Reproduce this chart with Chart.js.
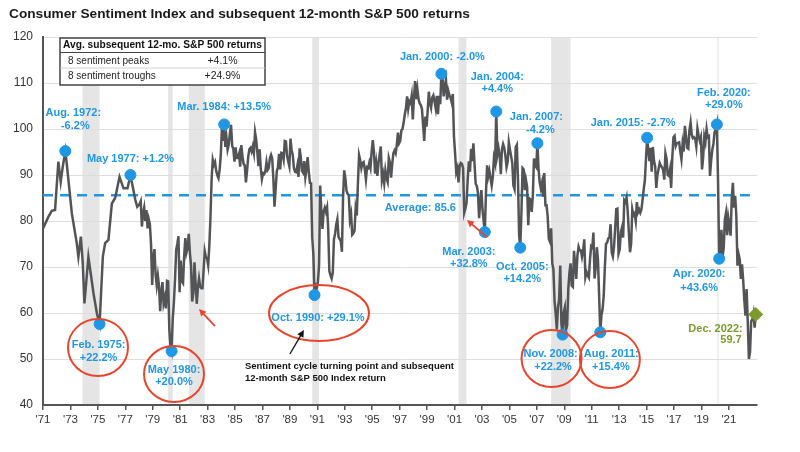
<!DOCTYPE html>
<html><head><meta charset="utf-8">
<script src="https://cdn.jsdelivr.net/npm/chart.js@4"></script>
<style>html,body{margin:0;padding:0;background:#fff}#wrap{width:800px;height:452px;position:relative}</style>
</head><body><div id="wrap"><canvas id="c"></canvas></div>
<script>
// ---------------- DATA ----------------
const chartTitle = "Consumer Sentiment Index and subsequent 12-month S&P 500 returns";
// early (pre-1978) readings, decimal years
const earlyDates = [1971.00,1971.39,1971.64,1971.88,1972.12,1972.29,1972.44,1972.625,1972.73,1973.10,1973.46,1973.58,1973.76,1973.90,1974.02,1974.31,1974.68,1974.93,1975.125,1975.36,1975.53,1975.77,1976.02,1976.26,1976.58,1976.87,1977.16,1977.375,1977.73,1977.87];
const earlyValues = [78.4,80.9,82.2,82.4,92.9,88.5,91.8,95.2,92.5,81.7,75.2,72.2,76.6,70.8,62.1,72.2,64.3,59.9,57.6,72.2,75.2,75.9,83.8,85.0,89.6,87.1,87.1,90.0,84.6,83.1];
// monthly readings from Jan 1978
const firstMonthlyYear = 1978;
const sentiment1978to1989 = [
83.7,84.3,78.8,81.6,82.9,80.0,82.4,78.4,80.4,79.3,75.0,66.1,
72.1,73.9,68.4,66.0,68.1,65.8,60.4,64.5,66.7,62.1,63.3,61.0,
67.0,66.9,56.5,52.7,51.7,58.7,62.3,67.3,73.7,75.0,76.7,64.5,
71.4,66.9,66.5,72.4,76.3,73.1,74.1,77.2,73.1,70.3,62.5,64.3,
71.0,66.5,62.0,65.5,67.5,65.7,65.4,65.4,69.3,73.4,72.1,71.9,
70.4,74.6,80.8,89.1,93.3,92.2,92.8,90.9,89.9,89.3,91.1,94.2,
100.1,97.4,101.0,96.1,98.1,95.5,96.6,99.1,100.9,96.3,95.7,92.9,
96.0,93.7,93.7,94.6,91.8,96.5,94.0,92.4,92.1,88.4,90.9,93.9,
95.6,95.9,95.1,96.2,94.8,99.3,97.7,94.9,91.9,95.6,91.4,89.1,
90.4,90.2,90.8,92.8,91.1,91.5,93.7,94.4,93.6,89.3,83.1,86.8,
90.8,91.6,94.6,91.2,94.8,94.7,93.4,97.4,97.3,94.1,93.0,91.9,
97.9,95.4,94.3,91.5,90.7,90.6,92.0,89.6,95.8,93.9,90.9,90.5];
const sentiment1990to1999 = [
93.0,89.5,91.3,93.9,90.6,88.3,88.2,76.4,72.8,63.9,66.0,65.5,
66.8,70.4,87.7,81.8,78.3,82.1,82.9,82.0,83.0,78.3,69.1,68.2,
67.5,68.8,76.0,77.2,79.2,80.4,76.6,76.1,75.6,73.3,85.3,91.0,
89.3,86.6,85.9,85.6,80.3,81.5,77.0,77.3,77.9,82.7,81.2,88.2,
94.3,93.2,91.5,92.6,92.8,91.2,89.0,91.7,91.5,92.7,91.6,95.1,
97.6,95.1,90.3,92.5,89.8,92.7,94.4,96.2,88.9,90.2,88.2,91.0,
89.3,88.5,93.7,92.7,89.4,92.4,94.7,95.3,94.7,96.5,99.2,96.9,
97.4,99.7,100.0,101.4,103.2,104.5,107.1,104.4,106.0,105.6,107.2,102.1,
106.6,110.4,106.5,108.7,106.5,105.6,105.2,104.4,100.9,97.4,102.7,100.5,
103.9,108.1,105.7,104.6,106.8,107.3,106.0,104.5,107.2,103.2,107.2,105.4];
const sentiment2000to2009 = [
112.0,111.3,107.1,109.2,110.7,106.4,108.3,107.3,106.8,105.8,107.6,98.4,
94.7,90.6,91.5,88.4,92.0,92.6,92.4,91.5,81.8,82.7,83.9,88.8,
93.0,90.7,95.7,93.0,96.9,92.4,88.1,87.6,86.1,80.6,84.2,86.7,
82.4,79.9,77.6,86.0,92.1,89.7,90.9,89.3,87.7,89.6,93.7,92.6,
103.8,94.4,95.8,94.2,90.2,95.6,96.7,95.9,94.2,91.7,92.8,97.1,
95.5,94.1,92.6,87.7,86.9,96.0,96.5,89.1,76.9,74.2,81.6,91.5,
91.2,86.7,88.9,87.4,79.1,84.9,84.7,82.0,85.4,93.6,92.1,91.7,
96.9,91.3,88.4,87.1,88.3,85.3,90.4,83.4,83.4,80.9,76.1,75.5,
78.4,70.8,69.5,62.6,59.8,56.4,61.2,63.0,70.3,57.6,55.3,60.1,
61.2,56.3,57.3,65.1,68.7,70.8,66.0,65.7,73.5,70.6,67.4,72.5];
const sentiment2010to2022 = [
74.4,73.6,73.6,72.2,73.6,76.0,67.8,68.9,68.2,67.7,71.6,74.5,
74.2,77.5,67.5,69.8,74.3,71.5,63.7,55.8,59.5,60.8,63.7,69.9,
75.0,75.3,76.2,76.4,79.3,73.2,72.3,74.3,78.3,82.6,82.7,72.9,
73.8,77.6,78.6,76.4,84.5,84.1,85.1,82.1,77.5,73.2,75.1,82.5,
81.2,81.6,80.0,84.1,81.9,82.5,81.8,82.5,84.6,86.9,88.8,93.6,
98.1,95.4,93.0,95.9,90.7,96.1,93.1,91.9,87.2,90.0,91.3,92.6,
92.0,91.7,91.0,89.0,94.7,93.5,90.0,89.8,91.2,87.2,93.8,98.2,
98.5,96.3,96.9,97.0,97.1,95.1,93.4,96.8,95.1,100.7,98.5,95.9,
95.7,99.7,101.4,98.8,98.0,98.2,97.9,96.2,100.1,98.6,97.5,98.3,
91.2,93.8,98.4,97.2,100.0,98.2,98.4,89.8,93.2,95.5,96.8,99.3,
99.8,101.0,89.1,71.8,72.3,78.1,72.5,74.1,80.4,81.8,76.9,80.7,
79.0,76.8,84.9,88.3,82.9,85.5,81.2,70.3,72.8,71.7,67.4,70.6,
67.2,62.8,59.4,65.2,58.4,50.0,51.5,58.2,58.6,59.9,56.8,59.7];

const averageValue = 85.6;
const averageLabel = "Average: 85.6";
// turning points (peaks & troughs)
const turningMonths = ["1972-08","1975-02","1977-05","1980-05","1984-03","1990-10","2000-01","2003-03","2004-01","2005-10","2007-01","2008-11","2011-08","2015-01","2020-02","2020-04"];
const turningValues = [95.2,57.6,90.0,51.7,101.0,63.9,112.0,77.6,103.8,74.2,96.9,55.3,55.8,98.1,101.0,71.8];
const turningLabels = [
  ["Aug. 1972:","-6.2%"],["Feb. 1975:","+22.2%"],["May 1977: +1.2%"],["May 1980:","+20.0%"],
  ["Mar. 1984: +13.5%"],["Oct. 1990: +29.1%"],["Jan. 2000: -2.0%"],["Mar. 2003:","+32.8%"],
  ["Jan. 2004:","+4.4%"],["Oct. 2005:","+14.2%"],["Jan. 2007:","-4.2%"],["Nov. 2008:","+22.2%"],
  ["Aug. 2011:","+15.4%"],["Jan. 2015: -2.7%"],["Feb. 2020:","+29.0%"],["Apr. 2020:","+43.6%"]];
const latestMonth = "2022-12";
const latestValue = 59.7;
const latestLabel = ["Dec. 2022:","59.7"];
// recessions
const recessionStarts = ["1973-11","1980-02","1981-08","1990-08","2001-04","2008-01","2020-02"];
const recessionEnds   = ["1975-02","1980-06","1982-10","1991-02","2001-11","2009-06","2020-04"];
// axis ticks
const xTickYears = [1971,1973,1975,1977,1979,1981,1983,1985,1987,1989,1991,1993,1995,1997,1999,2001,2003,2005,2007,2009,2011,2013,2015,2017,2019,2021];
const xTickLabels = ["'71","'73","'75","'77","'79","'81","'83","'85","'87","'89","'91","'93","'95","'97","'99","'01","'03","'05","'07","'09","'11","'13","'15","'17","'19","'21"];
// table
const tableHeader = "Avg. subsequent 12-mo. S&P 500 returns";
const tableRowNames = ["8 sentiment peaks","8 sentiment troughs"];
const tableRowReturns = ["+4.1%","+24.9%"];
const noteLines = ["Sentiment cycle turning point and subsequent","12-month S&P 500 Index return"];

// ---------------- LAYOUT (annotation placement) ----------------
const labelOffsets = [
  [[8,-38],[10,-25]],[[-1,21],[-1,34]],[[0,-16]],[[2.4,19],[2.4,31]],
  [[0,-17]],[[3.5,23]],[[1,-17]],[[-16,20],[-16,32]],
  [[1,-35],[1,-23]],[[2,19],[2,31]],[[-1,-26],[3,-13]],[[-12,19.5],[-9.5,32.5]],
  [[11,22],[10.6,35]],[[-14,-15]],[[7,-31],[7,-19]],[[-20,15],[-20,29]]];
const ellipseSpecs = [ // marker index, dx, dy, rx, ry
  [1,-1.6,23.5,30,28.5],[3,2.4,22.8,30,28],[5,4.5,18,50,28],[11,-11,24,30,28.5],[12,9.6,27.2,30,28.5]];
const BLUE = '#1f97e4', RED = '#e8452c', GREEN = '#7b9b2c', LINE = '#535456', AXIS = '#555';
const FONT = "'Liberation Sans', Arial, sans-serif";

// ---------------- BUILD ----------------
const monthToX = s => { const [y,m] = s.split('-').map(Number); return y + (m - 0.5) / 12; };
const sentimentPoints = earlyDates.map((d,i)=>({x:d, y:earlyValues[i]}));
[sentiment1978to1989, sentiment1990to1999, sentiment2000to2009, sentiment2010to2022].flat()
  .forEach((v,i)=>sentimentPoints.push({x:firstMonthlyYear + (i + 0.5)/12, y:v}));
const turningPoints = turningMonths.map((m,i)=>({x:monthToX(m), y:turningValues[i]}));
const X_MIN = 1971, X_MAX = 2023.05;

function txt(ctx, s, x, y, font, color, align, maxW){
  ctx.save(); ctx.font = font; ctx.fillStyle = color; ctx.textAlign = align || 'center'; ctx.textBaseline = 'middle';
  if (maxW) ctx.fillText(s, x, y, maxW); else ctx.fillText(s, x, y); ctx.restore();
}
function arrow(ctx, x1, y1, x2, y2, color, w){
  ctx.save(); ctx.strokeStyle = color; ctx.fillStyle = color; ctx.lineWidth = w;
  const a = Math.atan2(y2-y1, x2-x1), h = 7;
  ctx.beginPath(); ctx.moveTo(x1,y1); ctx.lineTo(x2 - Math.cos(a)*h*0.8, y2 - Math.sin(a)*h*0.8); ctx.stroke();
  ctx.beginPath(); ctx.moveTo(x2,y2);
  ctx.lineTo(x2 - h*Math.cos(a) + 3.5*Math.sin(a), y2 - h*Math.sin(a) - 3.5*Math.cos(a));
  ctx.lineTo(x2 - h*Math.cos(a) - 3.5*Math.sin(a), y2 - h*Math.sin(a) + 3.5*Math.cos(a));
  ctx.closePath(); ctx.fill(); ctx.restore();
}

const decor = {
  id: 'decor',
  beforeDraw(chart){
    const {ctx, chartArea:ca, scales:{x}} = chart;
    ctx.save();
    recessionStarts.forEach((s,i)=>{
      const a = x.getPixelForValue(monthToX(s)), b = x.getPixelForValue(monthToX(recessionEnds[i]));
      ctx.fillStyle = i === recessionStarts.length-1 ? '#f0f0f0' : '#e5e5e5';
      ctx.fillRect(a, ca.top, Math.max(b-a, 1.5), ca.bottom - ca.top);
    });
    ctx.restore();
    txt(ctx, chartTitle, 9, 14.5, `bold 13.7px ${FONT}`, '#1a1a1a', 'left');
  },
  afterDraw(chart){
    const {ctx, chartArea:ca, scales:{x, y}} = chart;
    const L = `bold 11px ${FONT}`;
    // turning point labels
    turningPoints.forEach((p,i)=>{
      const px = x.getPixelForValue(p.x), py = y.getPixelForValue(p.y);
      turningLabels[i].forEach((line,j)=>{
        const [dx,dy] = labelOffsets[i][j];
        txt(ctx, line, px+dx, py+dy, L, BLUE, 'center');
      });
    });
    // ellipses
    ctx.save(); ctx.strokeStyle = RED; ctx.lineWidth = 2;
    ellipseSpecs.forEach(([i,dx,dy,rx,ry])=>{
      const px = x.getPixelForValue(turningPoints[i].x), py = y.getPixelForValue(turningPoints[i].y);
      ctx.beginPath(); ctx.ellipse(px+dx, py+dy, rx, ry, 0, 0, Math.PI*2); ctx.stroke();
    });
    ctx.restore();
    // latest label
    const lx = x.getPixelForValue(monthToX(latestMonth)), ly = y.getPixelForValue(latestValue);
    txt(ctx, latestLabel[0], lx-13, ly+15, L, GREEN, 'right');
    txt(ctx, latestLabel[1], lx-14, ly+26, L, GREEN, 'right');
    // average label
    txt(ctx, averageLabel, x.getPixelForValue(1998.51), y.getPixelForValue(averageValue)+13, L, BLUE, 'center');
    // arrows
    arrow(ctx, x.getPixelForValue(1983.54), y.getPixelForValue(57.17), x.getPixelForValue(1982.37), y.getPixelForValue(60.87), RED, 1.8);
    arrow(ctx, x.getPixelForValue(2003.36), y.getPixelForValue(76.52), x.getPixelForValue(2001.90), y.getPixelForValue(80.22), RED, 1.8);
    arrow(ctx, x.getPixelForValue(1989.0), y.getPixelForValue(51.09), x.getPixelForValue(1990.02), y.getPixelForValue(56.30), '#111', 1.3);
    // note
    const nx = x.getPixelForValue(1985.72);
    txt(ctx, noteLines[0], nx, y.getPixelForValue(48.37), `bold 9.5px ${FONT}`, '#111', 'left', 212);
    txt(ctx, noteLines[1], nx, y.getPixelForValue(45.87), `bold 9.5px ${FONT}`, '#111', 'left', 143);
    // table
    const tl = ca.left + 17, tt = ca.top + 1, tr = ca.left + 222, tb = ca.top + 48;
    ctx.save();
    ctx.fillStyle = '#fff'; ctx.fillRect(tl, tt, tr-tl, tb-tt);
    ctx.strokeStyle = '#444'; ctx.lineWidth = 1.5; ctx.strokeRect(tl, tt, tr-tl, tb-tt);
    ctx.beginPath(); ctx.moveTo(tl, tt+14.5); ctx.lineTo(tr, tt+14.5); ctx.lineWidth = 1.2; ctx.stroke();
    ctx.beginPath(); ctx.moveTo(tl, tt+30); ctx.lineTo(tr, tt+30); ctx.strokeStyle = '#c8c8c8'; ctx.lineWidth = 0.8; ctx.stroke();
    ctx.restore();
    txt(ctx, tableHeader, tl+3, tt+7.5, `bold 10.5px ${FONT}`, '#111', 'left', 199);
    tableRowNames.forEach((n,i)=>{
      const ry = tt + 23 + i*15;
      txt(ctx, n, tl+8, ry, `10px ${FONT}`, '#222', 'left');
      txt(ctx, tableRowReturns[i], tl+162.5, ry, `10.5px ${FONT}`, '#222', 'center');
    });
  }
};

new Chart(document.getElementById('c'), {
  type: 'line',
  data: {
    datasets: [
      { label:'Turning points', data: turningPoints, showLine:false, pointRadius:5.5, pointHoverRadius:5.5,
        pointBackgroundColor: BLUE, pointBorderColor: BLUE, order:0, clip:false },
      { label:'Latest', data:[{x:monthToX(latestMonth), y:latestValue}], showLine:false, pointStyle:'rectRot',
        pointRadius:7, pointBackgroundColor: GREEN, pointBorderColor: GREEN, order:0, clip:false },
      { label:'Consumer Sentiment', data: sentimentPoints, borderColor: LINE, borderWidth:2.5, pointRadius:0,
        tension:0, fill:false, order:1 },
      { label:'Average', data:[{x:X_MIN, y:averageValue},{x:X_MAX, y:averageValue}], borderColor: BLUE,
        borderWidth:2.5, borderDash:[10,7], pointRadius:0, order:2 }
    ]
  },
  options: {
    responsive:true, maintainAspectRatio:false, animation:false,
    layout:{ padding:{ top:37, right:43, left:0, bottom:0 } },
    plugins:{ legend:{display:false}, tooltip:{enabled:false}, title:{display:false} },
    scales:{
      x:{ type:'linear', min:X_MIN, max:X_MAX,
        afterBuildTicks: s => { s.ticks = xTickYears.map(v=>({value:v})); },
        afterFit: s => { s.height = 47; },
        ticks:{ autoSkip:false, maxRotation:0, padding:3, color:'#333', font:{family:FONT, size:11.5},
          callback:(v)=>{ const i = xTickYears.indexOf(v); return i>=0 ? xTickLabels[i] : ''; } },
        grid:{ display:true, drawOnChartArea:false, drawTicks:true, tickLength:5, color:AXIS, lineWidth:1.5 },
        border:{ display:true, color:AXIS, width:2 } },
      y:{ min:40, max:120, afterFit: s => { s.width = 43; },
        ticks:{ stepSize:10, padding:10, color:'#333', font:{family:FONT, size:12} },
        grid:{ color:'#dedede', lineWidth:1, drawTicks:false },
        border:{ display:true, color:AXIS, width:2 } }
    }
  },
  plugins:[decor]
});
</script>
</body></html>
